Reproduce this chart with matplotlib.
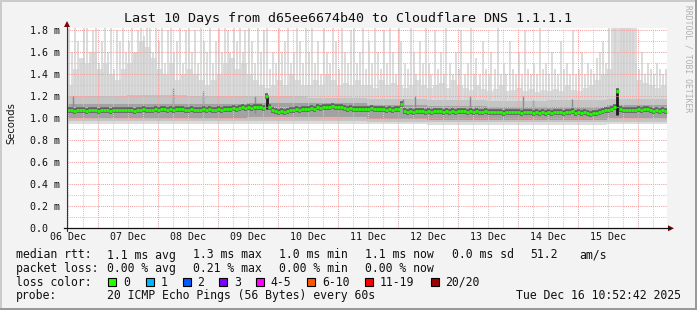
import numpy as np
import matplotlib
matplotlib.use("Agg")
import matplotlib.pyplot as plt
from matplotlib.patches import Rectangle, Polygon

# ---------------- data ----------------
# median rtt (ms), one value every 1.2 h, 20 values per day
median_ms = [
    1.08, 1.075, 1.07, 1.08, 1.075, 1.08, 1.07, 1.075, 1.08, 1.075, 1.07, 1.075, 1.08, 1.075, 1.07, 1.075, 1.08, 1.075, 1.08, 1.075,
    1.075, 1.08, 1.07, 1.075, 1.08, 1.085, 1.08, 1.075, 1.08, 1.085, 1.08, 1.09, 1.085, 1.08, 1.085, 1.08, 1.085, 1.09, 1.085, 1.08,
    1.08, 1.085, 1.08, 1.075, 1.08, 1.085, 1.08, 1.085, 1.08, 1.08, 1.085, 1.08, 1.085, 1.09, 1.09, 1.095, 1.09, 1.095, 1.10, 1.095,
    1.10, 1.095, 1.10, 1.105, 1.10, 1.095, 1.20, 1.10, 1.08, 1.07, 1.06, 1.065, 1.06, 1.07, 1.075, 1.08, 1.085, 1.08, 1.09, 1.085,
    1.09, 1.095, 1.09, 1.10, 1.095, 1.10, 1.105, 1.10, 1.11, 1.105, 1.10, 1.10, 1.095, 1.09, 1.095, 1.09, 1.09, 1.085, 1.09, 1.085,
    1.09, 1.095, 1.09, 1.085, 1.09, 1.085, 1.08, 1.085, 1.08, 1.085, 1.09, 1.13, 1.07, 1.06, 1.065, 1.06, 1.065, 1.07, 1.065, 1.06,
    1.065, 1.06, 1.065, 1.07, 1.065, 1.06, 1.065, 1.06, 1.065, 1.06, 1.065, 1.07, 1.065, 1.06, 1.065, 1.06, 1.065, 1.06, 1.06, 1.065,
    1.06, 1.055, 1.06, 1.055, 1.06, 1.05, 1.055, 1.06, 1.055, 1.06, 1.055, 1.05, 1.055, 1.06, 1.055, 1.05, 1.055, 1.05, 1.055, 1.05,
    1.055, 1.05, 1.055, 1.06, 1.055, 1.05, 1.055, 1.06, 1.07, 1.05, 1.055, 1.05, 1.055, 1.045, 1.04, 1.045, 1.05, 1.06, 1.07, 1.075,
    1.08, 1.09, 1.10, 1.25, 1.085, 1.08, 1.075, 1.08, 1.075, 1.08, 1.085, 1.08, 1.09, 1.085, 1.075, 1.07, 1.075, 1.07, 1.075, 1.07,
]

# top of the thin light grey smoke spikes (ms), same sampling
spike_top_ms = [
    1.9, 1.6, 1.9, 1.7, 1.5, 1.9, 1.9, 1.6, 1.8, 1.9, 1.5, 1.7, 1.9, 1.6, 1.9, 1.45, 1.8, 1.7, 1.9, 1.6,
    1.7, 1.9, 1.6, 1.8, 1.9, 1.75, 1.9, 1.85, 1.6, 1.9, 1.7, 1.9, 1.5, 1.8, 1.9, 1.6, 1.7, 1.9, 1.5, 1.8,
    1.9, 1.6, 1.8, 1.5, 1.9, 1.7, 1.6, 1.9, 1.5, 1.7, 1.9, 1.6, 1.9, 1.8, 1.6, 1.9, 1.7, 1.9, 1.6, 1.8,
    1.9, 1.7, 1.5, 1.9, 1.6, 1.8, 1.9, 1.45, 1.6, 1.5, 1.9, 1.6, 1.7, 1.9, 1.5, 1.6, 1.9, 1.7, 1.5, 1.9,
    1.6, 1.9, 1.5, 1.7, 1.4, 1.9, 1.6, 1.5, 1.9, 1.7, 1.45, 1.9, 1.6, 1.5, 1.8, 1.9, 1.5, 1.6, 1.9, 1.45,
    1.7, 1.5, 1.9, 1.6, 1.45, 1.8, 1.5, 1.9, 1.6, 1.4, 1.9, 1.7, 1.5, 1.45, 1.9, 1.6, 1.4, 1.7, 1.5, 1.9,
    1.5, 1.4, 1.8, 1.45, 1.6, 1.4, 1.9, 1.5, 1.4, 1.6, 1.45, 1.8, 1.4, 1.5, 1.9, 1.4, 1.55, 1.4, 1.7, 1.45,
    1.4, 1.6, 1.45, 1.9, 1.4, 1.5, 1.4, 1.7, 1.45, 1.4, 1.6, 1.4, 1.8, 1.45, 1.4, 1.5, 1.4, 1.9, 1.45, 1.5,
    1.4, 1.6, 1.45, 1.4, 1.7, 1.45, 1.5, 1.4, 1.8, 1.4, 1.45, 1.6, 1.4, 1.5, 1.45, 1.4, 1.55, 1.6, 1.7, 1.5,
    1.9, 1.9, 1.9, 1.6, 1.9, 1.9, 1.9, 1.9, 1.8, 1.5, 1.45, 1.6, 1.4, 1.5, 1.45, 1.4, 1.5, 1.45, 1.4, 1.45,
]

# filled part of the light smoke (ms), one value every 2.4 h
smoke_fill_ms = [
    1.30, 1.45, 1.55, 1.50, 1.60, 1.45, 1.50, 1.40, 1.35, 1.45,
    1.50, 1.60, 1.70, 1.65, 1.55, 1.45, 1.40, 1.50, 1.35, 1.40,
    1.45, 1.40, 1.35, 1.30, 1.35, 1.40, 1.50, 1.55, 1.45, 1.50,
    1.40, 1.35, 1.30, 1.28, 1.30, 1.35, 1.30, 1.40, 1.35, 1.30,
    1.30, 1.35, 1.30, 1.40, 1.35, 1.30, 1.32, 1.30, 1.35, 1.30,
    1.30, 1.28, 1.35, 1.30, 1.32, 1.30, 1.28, 1.30, 1.35, 1.30,
    1.28, 1.30, 1.32, 1.28, 1.35, 1.30, 1.28, 1.26, 1.30, 1.27,
    1.25, 1.27, 1.30, 1.25, 1.26, 1.28, 1.25, 1.27, 1.24, 1.26,
    1.25, 1.27, 1.25, 1.30, 1.26, 1.25, 1.28, 1.30, 1.35, 1.40,
    1.45, 1.85, 1.85, 1.85, 1.85, 1.35, 1.32, 1.30, 1.28, 1.30,
]

# smoke bands, one value per day (ms)
smoke_low_ms = [0.95, 0.95, 0.95, 0.95, 0.95, 0.945, 0.94, 0.94, 0.94, 0.95]
band_lo_ms = [0.975, 0.975, 0.975, 0.975, 0.975, 0.97, 0.965, 0.965, 0.965, 0.97]
band_hi_ms = [1.20, 1.21, 1.20, 1.20, 1.19, 1.18, 1.17, 1.16, 1.17, 1.18]
core_lo_ms = [1.00, 1.00, 1.00, 1.01, 1.01, 0.995, 0.99, 0.985, 0.985, 1.00]
core_hi_ms = [1.13, 1.135, 1.135, 1.14, 1.14, 1.12, 1.11, 1.10, 1.10, 1.12]

# darker vertical smoke streaks: hour, bottom, top (ms), dark?
streak_hour = [2.4, 42.4, 54.4, 75.2, 80.0, 134.4, 139.2, 161.2, 182.4, 186.4, 202.0, 220.0]
streak_lo = [1.05, 1.05, 1.05, 1.05, 1.09, 1.05, 1.05, 1.05, 1.05, 1.05, 1.05, 1.03]
streak_hi = [1.20, 1.28, 1.25, 1.20, 1.21, 1.18, 1.20, 1.20, 1.20, 1.17, 1.18, 1.26]
streak_black = [False, False, False, False, True, False, False, False, False, False, False, True]

day_labels = ['06 Dec', '07 Dec', '08 Dec', '09 Dec', '10 Dec',
              '11 Dec', '12 Dec', '13 Dec', '14 Dec', '15 Dec']

loss_labels = ['0', '1', '2', '3', '4-5', '6-10', '11-19', '20/20']
loss_colors = ['#26ff00', '#00b8ff', '#0059ff', '#7e00ff', '#ff00ff', '#ff5500', '#ff0000', '#a10000']

# ---------------- figure ----------------
W, H = 697, 310
MONO = 'DejaVu Sans Mono'
fig = plt.figure(figsize=(W / 100, H / 100), dpi=100, facecolor='#f3f3f3')

X0, X1, Y0, Y1 = 67, 667, 228.3, 28.3
ax = fig.add_axes([X0 / W, 1 - Y0 / H, (X1 - X0) / W, (Y0 - Y1) / H], zorder=1)
ax.set_facecolor('white')
ax.set_xlim(0, 240)
ax.set_ylim(0, 1.82)
for s in ax.spines.values():
    s.set_visible(False)

t = np.arange(len(median_ms) + 1) * 1.2
tf = np.arange(len(smoke_fill_ms) + 1) * 2.4
t10 = np.arange(len(day_labels) + 1) * 24.0


def ext(a):
    return list(a) + [a[-1]]


# light smoke
ax.fill_between(tf, 0.95, ext(smoke_fill_ms), step='post', color='#dcdcdc', lw=0, zorder=1)
ax.vlines((np.arange(len(spike_top_ms)) + 0.5) * 1.2, 1.0, spike_top_ms,
          color='#d2d2d2', lw=1.1, zorder=1)
ax.fill_between(t10, ext(smoke_low_ms), ext(band_hi_ms), step='post',
                color='#dcdcdc', lw=0, zorder=1)
ax.fill_between(t10, ext(band_lo_ms), ext(band_hi_ms), step='post',
                color='#c4c4c4', lw=0, zorder=1.1)
ax.fill_between(t10, ext(core_lo_ms), ext(core_hi_ms), step='post',
                color='#a2a2a2', lw=0, zorder=1.2)
for h, lo, hi, blk in zip(streak_hour, streak_lo, streak_hi, streak_black):
    ax.vlines(h, lo, hi, color='#1a1a1a' if blk else '#8a8a8a',
              lw=2.0 if blk else 1.0, zorder=1.3)

# grid
for k in range(1, 19):
    v = k * 0.1
    major = k % 2 == 0
    ax.axhline(v, color='#f2a0a0' if major else '#cccccc', lw=0.75,
               ls=(0, (1, 1)), zorder=1.5)
for k in range(40):
    h = 0.4 + 6 * k
    major = k % 4 == 2
    ax.axvline(h, color='#f2a0a0' if major else '#cccccc', lw=0.75,
               ls=(0, (1, 1)), zorder=1.5)

# median: dark core + green bar, drawn as flat segments like smokeping
ax.hlines(median_ms, t[:-1], t[1:], color='#606060', lw=4.0, zorder=2.5)
ax.hlines(median_ms, t[:-1], t[1:], color='#20ff00', lw=2.0, zorder=3)

yt = np.arange(10) * 0.2
ax.set_yticks(yt)
ax.set_yticklabels(['0.0  '] + ['%.1f m' % v for v in yt[1:]])
ax.set_xticks(0.4 + 24 * np.arange(10))
ax.set_xticklabels(day_labels)
ax.tick_params(axis='y', length=0, pad=5, labelsize=7.2, labelcolor='#111111')
ax.tick_params(axis='x', length=0, pad=3, labelsize=7.2, labelcolor='#111111')
for lab in ax.get_xticklabels() + ax.get_yticklabels():
    lab.set_family(MONO)

# ---------------- overlay in pixel coordinates ----------------
ov = fig.add_axes([0, 0, 1, 1], zorder=2)
ov.set_xlim(0, W)
ov.set_ylim(H, 0)
ov.axis('off')

# frame
ov.add_patch(Rectangle((0, 0), W, 2, color='#cbcbcb', lw=0))
ov.add_patch(Rectangle((0, 0), 2, H, color='#cbcbcb', lw=0))
ov.add_patch(Rectangle((0, H - 2), W, 2, color='#999999', lw=0))
ov.add_patch(Rectangle((W - 2, 0), 2, H, color='#999999', lw=0))

# axes with arrows
ov.plot([X0, X0], [Y0 + 3, 24], color='#333333', lw=0.8)
ov.plot([X0 - 3, 670], [Y0, Y0], color='#111111', lw=0.9)
ov.add_patch(Polygon([[64, 27], [70, 27], [67, 21]], closed=True, color='#7f0000', lw=0))
ov.add_patch(Polygon([[668, 225.3], [668, 231.3], [674, 228.3]], closed=True, color='#7f0000', lw=0))

ov.text(347.5, 18.5, 'Last 10 Days from d65ee6674b40 to Cloudflare DNS 1.1.1.1',
        ha='center', va='center', fontsize=9.6, family=MONO, color='#111111')
ov.text(11, 122.6, 'Seconds', rotation=90, ha='center', va='center',
        fontsize=7.2, family='DejaVu Sans', color='#111111')
ov.text(688, 5, 'RRDTOOL / TOBI OETIKER', rotation=270, ha='center', va='top',
        fontsize=5.8, family=MONO, color='#b0b0b0')

fs = 8.3
rows = [
    (255.0, [(16, 'median rtt:'), (107, '1.1 ms avg'), (193, '1.3 ms max'),
             (279, '1.0 ms min'), (365, '1.1 ms now'), (451.5, '0.0 ms sd'),
             (530, '51.2'), (579, 'am/s')]),
    (268.5, [(16, 'packet loss:'), (107, '0.00 % avg'), (193, '0.21 % max'),
             (279, '0.00 % min'), (365, '0.00 % now')]),
    (282.3, [(16, 'loss color:')]),
    (295.8, [(16, 'probe:'), (107, '20 ICMP Echo Pings (56 Bytes) every 60s')]),
]
for y, parts in rows:
    for x, s in parts:
        ov.text(x, y, s, ha='left', va='center', fontsize=fs, family=MONO, color='#111111')
ov.text(681, 295.8, 'Tue Dec 16 10:52:42 2025', ha='right', va='center',
        fontsize=fs, family=MONO, color='#111111')

box_x = [108.3, 145.7, 182.7, 219.3, 256.0, 307.3, 365.0, 430.7]
for bx, lab, c in zip(box_x, loss_labels, loss_colors):
    ov.add_patch(Rectangle((bx, 278.3), 8, 8, facecolor=c, edgecolor='black', lw=0.8))
    ov.text(bx + 14.5, 282.3, lab, ha='left', va='center', fontsize=fs, family=MONO, color='#111111')

fig.savefig('out.png', dpi=100, facecolor=fig.get_facecolor())
